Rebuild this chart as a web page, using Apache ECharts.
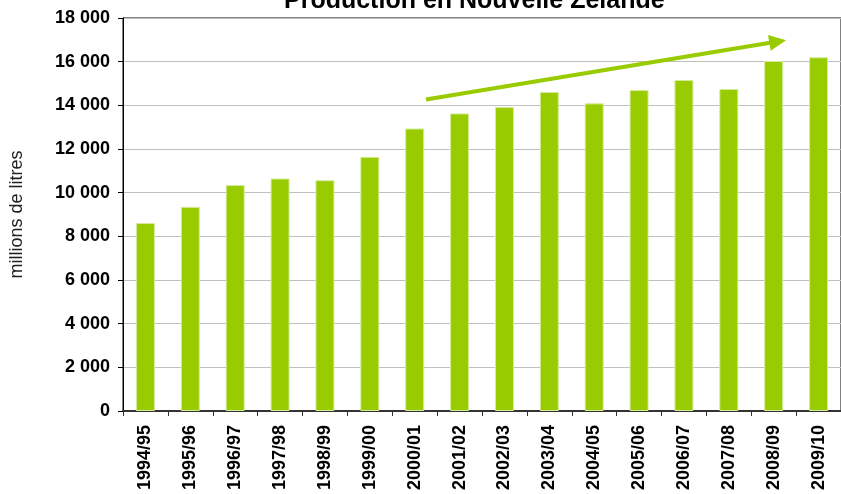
<!DOCTYPE html>
<html lang="fr">
<head>
    <meta charset="UTF-8">
    <title>Production en Nouvelle Zélande</title>
    <script src="https://cdn.jsdelivr.net/npm/echarts@6/dist/echarts.min.js"></script>
</head>
<body style="margin:0;">
<div id="bar" style="width: 841px;height: 494px;"></div>
<script>
    var seasons = ['1994/95','1995/96','1996/97','1997/98','1998/99','1999/00','2000/01','2001/02',
                   '2002/03','2003/04','2004/05','2005/06','2006/07','2007/08','2008/09','2009/10'];
    var production = [8610,9350,10350,10650,10570,11640,12940,13630,
                      13920,14610,14090,14700,15160,14750,16030,16200];
    // flèche de tendance : [position de catégorie, valeur]
    var arrowStart = [6.25, 14270];
    var arrowEnd = [14.09, 16920];

    var myChart = echarts.init(document.getElementById('bar'));
    var option = {
        animation: false,
        title: {
            text: 'Production en Nouvelle Zélande',
            left: 279,
            top: -16,
            textStyle: {
                color: '#000',
                fontFamily: 'Liberation Sans',
                fontWeight: 'bold',
                fontSize: 25
            }
        },
        grid: {
            left: 123,
            top: 18,
            right: -5,
            bottom: 83,
            show: true,
            borderColor: '#000',
            borderWidth: 1
        },
        xAxis: [{
            type: 'category',
            data: seasons,
            axisLine: {
                lineStyle: { color: '#333', width: 2 }
            },
            axisTick: {
                show: true,
                length: 5,
                lineStyle: { color: '#333' }
            },
            axisLabel: {
                rotate: 90,
                margin: 14,
                color: '#000',
                fontFamily: 'Liberation Sans',
                fontWeight: 'bold',
                fontSize: 18
            }
        }, {
            // axe caché pour placer la flèche
            type: 'value',
            show: false,
            min: -0.5,
            max: 15.5
        }],
        yAxis: {
            type: 'value',
            min: 0,
            max: 18000,
            interval: 2000,
            name: 'millions de litres',
            nameLocation: 'middle',
            nameGap: 97,
            nameTextStyle: {
                color: '#222',
                fontFamily: 'Liberation Sans',
                fontSize: 18
            },
            axisLine: {
                show: true,
                onZero: false,
                lineStyle: { color: '#000', width: 1 }
            },
            axisTick: {
                show: true,
                length: 5,
                lineStyle: { color: '#000' }
            },
            splitLine: {
                lineStyle: { color: '#c0c0c0', width: 1 }
            },
            axisLabel: {
                margin: 13,
                color: '#000',
                fontFamily: 'Liberation Sans',
                fontWeight: 'bold',
                fontSize: 18,
                formatter: function (value) {
                    return String(value).replace(/\B(?=(\d{3})+(?!\d))/g, ' ');
                }
            }
        },
        series: [{
            name: 'Production',
            type: 'bar',
            barWidth: 19,
            data: production,
            itemStyle: {
                color: '#99cc00',
                borderColor: '#d6ec9c',
                borderWidth: 1
            }
        }, {
            name: 'tendance',
            type: 'line',
            xAxisIndex: 1,
            data: [arrowStart, arrowEnd],
            showSymbol: false,
            lineStyle: { width: 0, opacity: 0 },
            silent: true,
            markLine: {
                silent: true,
                symbol: ['none', 'triangle'],
                symbolSize: [16, 17],
                label: { show: false },
                lineStyle: { color: '#99cc00', width: 4, type: 'solid' },
                data: [[{ coord: arrowStart }, { coord: arrowEnd }]]
            }
        }]
    };
    myChart.setOption(option);
</script>
</body>
</html>
